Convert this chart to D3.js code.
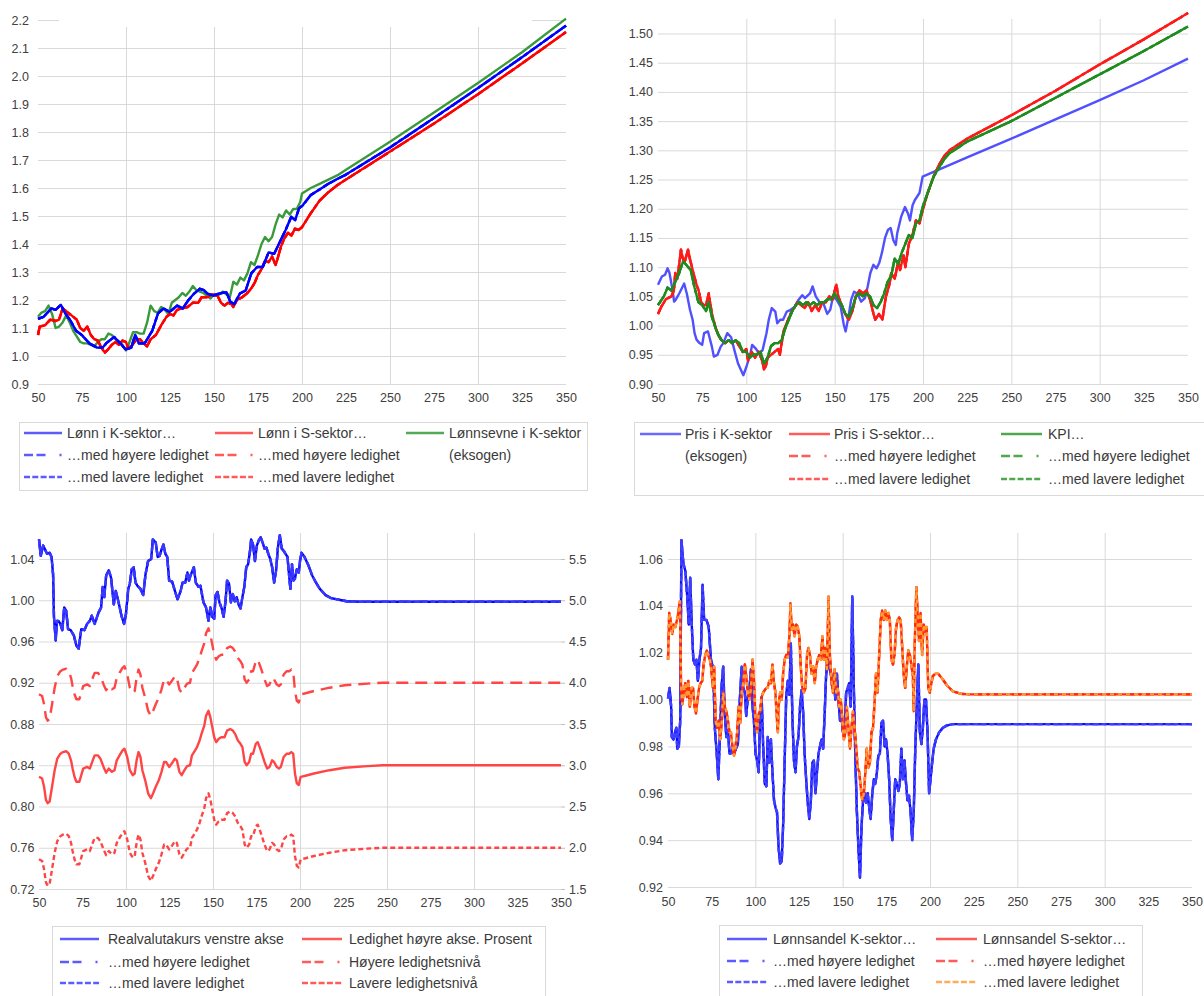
<!DOCTYPE html>
<html><head><meta charset="utf-8">
<script src="https://cdn.jsdelivr.net/npm/d3@7"></script>
<style>body{margin:0;background:#fff}svg{display:block}</style>
</head><body><script>
// ---------- shared axis values ----------
const xTicks = [50,75,100,125,150,175,200,225,250,275,300,325,350];
const xGrid = [100,150,200,250,300];
const yTicksLonn = [0.9,1.0,1.1,1.2,1.3,1.4,1.5,1.6,1.7,1.8,1.9,2.0,2.1,2.2];
const yTicksPris = [0.90,0.95,1.00,1.05,1.10,1.15,1.20,1.25,1.30,1.35,1.40,1.45,1.50];
const yTicksValuta = [0.72,0.76,0.80,0.84,0.88,0.92,0.96,1.00,1.04];
const yTicksLedighet = [1.5,2.0,2.5,3.0,3.5,4.0,4.5,5.0,5.5];
const yTicksAndel = [0.92,0.94,0.96,0.98,1.00,1.02,1.04,1.06];

// ---------- panel 1: wages ----------
const lonnK = [[50,1.133],[53.2,1.14],[57.6,1.17],[60,1.165],[63,1.183],[65.2,1.155],[68.4,1.127],[71.6,1.09],[74.9,1.075],[79.2,1.045],[83.5,1.03],[86.8,1.03],[89,1.047],[93.3,1.068],[96.5,1.047],[99.8,1.023],[103,1.03],[105.2,1.075],[107.4,1.045],[110.6,1.045],[114.9,1.09],[118.2,1.152],[121.4,1.17],[124.7,1.157],[129,1.18],[132.3,1.17],[135.5,1.2],[138.7,1.223],[142,1.24],[144.2,1.235],[146.3,1.223],[149.6,1.216],[152.8,1.223],[157.1,1.228],[159.3,1.193],[161.5,1.186],[164.7,1.223],[168,1.234],[171.2,1.295],[174.5,1.318],[177.7,1.318],[181,1.37],[184.2,1.365],[187.4,1.407],[190.7,1.45],[193.9,1.497],[196.1,1.485],[198.3,1.527],[200.4,1.538],[205,1.575],[210,1.595],[215,1.615],[220,1.632],[225,1.648],[250,1.745],[275,1.85],[300,1.957],[325,2.067],[350,2.18]];
const lonnS = [[50,1.075],[51,1.105],[54,1.11],[57,1.13],[60,1.125],[62,1.13],[64,1.17],[66,1.16],[69,1.145],[72,1.13],[74,1.1],[76,1.09],[78,1.105],[80,1.075],[82,1.06],[84,1.055],[86,1.03],[88,1.012],[90,1.025],[92,1.04],[94,1.05],[96,1.04],[98,1.055],[100,1.05],[101,1.03],[103,1.035],[106,1.06],[108,1.06],[110,1.045],[112,1.035],[114,1.06],[117,1.075],[120,1.11],[123,1.14],[125,1.15],[127,1.145],[129,1.165],[132,1.17],[135,1.175],[138,1.19],[141,1.19],[143,1.21],[146,1.21],[149,1.22],[152,1.215],[154,1.19],[156,1.18],[158,1.19],[160,1.185],[161,1.175],[163,1.2],[166,1.21],[169,1.225],[171,1.24],[173,1.26],[175,1.29],[177,1.31],[179,1.34],[181,1.335],[183,1.355],[185,1.325],[186,1.345],[188,1.39],[190,1.42],[192,1.44],[194,1.43],[196,1.455],[198,1.45],[200,1.46],[205,1.51],[210,1.555],[215,1.585],[220,1.61],[225,1.63],[250,1.73],[275,1.83],[300,1.935],[325,2.045],[350,2.157]];
const lonnsevneK = [[50,1.14],[52,1.155],[54,1.16],[56,1.18],[58,1.15],[60,1.1],[62,1.105],[64,1.12],[66,1.145],[68,1.12],[70,1.09],[72,1.07],[74,1.05],[76,1.045],[78,1.045],[80,1.04],[82,1.035],[84,1.05],[86,1.06],[88,1.06],[90,1.08],[92,1.075],[94,1.06],[96,1.05],[98,1.04],[100,1.02],[102,1.05],[104,1.085],[106,1.085],[108,1.08],[110,1.08],[112,1.12],[114,1.18],[116,1.16],[118,1.155],[120,1.175],[122,1.165],[124,1.15],[126,1.19],[128,1.2],[130,1.21],[132,1.225],[134,1.215],[136,1.23],[138,1.25],[140,1.235],[142,1.23],[144,1.225],[146,1.215],[148,1.205],[150,1.22],[152,1.215],[155,1.23],[157,1.22],[159,1.21],[161,1.265],[163,1.255],[165,1.28],[167,1.27],[169,1.295],[171,1.335],[173,1.325],[175,1.36],[177,1.4],[179,1.425],[181,1.41],[183,1.425],[185,1.47],[187,1.505],[189,1.495],[191,1.52],[193,1.505],[195,1.525],[197,1.525],[199,1.55],[200,1.58],[205,1.6],[210,1.615],[215,1.63],[220,1.645],[225,1.665],[250,1.765],[275,1.87],[300,1.975],[325,2.085],[350,2.205]];

// ---------- panel 2: prices ----------
const prisK = [[50,1.07],[52.2,1.084],[54,1.087],[55.4,1.098],[56.5,1.09],[58.3,1.06],[59.1,1.041],[60,1.044],[62,1.055],[63.5,1.064],[64.8,1.072],[66.3,1.055],[68.1,1.027],[69.6,1.01],[70.7,0.987],[71.8,0.976],[73.5,0.97],[75,0.967],[76.1,0.987],[78.3,0.99],[80.5,0.964],[81.6,0.947],[83.7,0.95],[85.5,0.964],[87,0.97],[89.2,0.987],[91.4,0.98],[93.5,0.955],[95.3,0.935],[98.3,0.915],[100.1,0.93],[102.3,0.952],[103.3,0.967],[105.5,0.96],[107.3,0.952],[109.2,0.958],[111.4,0.987],[112.7,1.01],[114.4,1.03],[116.4,1.024],[117.5,1.004],[119.2,1.01],[120.8,1.01],[122.9,1.024],[125.1,1.027],[127.3,1.032],[129.5,1.044],[131.6,1.052],[133.2,1.047],[136,1.055],[137.5,1.067],[139.3,1.05],[141.4,1.04],[143.6,1.038],[145.8,1.02],[147.5,1.027],[149.1,1.05],[151.2,1.044],[153.4,1.032],[155.2,1.001],[156.2,0.99],[157.8,1.015],[159.3,1.044],[161,1.058],[162.8,1.055],[165,1.041],[167.1,1.047],[168.7,1.067],[170.2,1.09],[171.9,1.104],[173.7,1.098],[175.2,1.107],[176.7,1.124],[178.5,1.15],[180.2,1.164],[181.7,1.167],[183.2,1.146],[184.6,1.138],[185.4,1.158],[187.6,1.186],[189.8,1.203],[191.5,1.192],[192.6,1.18],[194.1,1.206],[195.4,1.215],[198,1.227],[199.8,1.255],[225,1.288],[250,1.32],[275,1.353],[300,1.386],[325,1.42],[350,1.457]];
const prisS = [[50,1.02],[52,1.033],[54.4,1.045],[57.6,1.05],[59,1.06],[59.8,1.09],[61,1.08],[63,1.13],[64,1.115],[65.2,1.11],[67,1.13],[68,1.115],[69.6,1.095],[71.8,1.07],[73,1.06],[74.4,1.04],[76,1.035],[77.2,1.035],[78.7,1.055],[80.5,1.02],[82.7,0.995],[84.8,0.98],[86,0.975],[88,0.97],[90,0.975],[92,0.97],[94,0.975],[96,0.965],[98,0.955],[100,0.96],[101,0.94],[103,0.955],[105,0.945],[107,0.955],[109,0.94],[110,0.925],[111,0.93],[112,0.945],[114,0.95],[116,0.955],[118,0.96],[119,0.95],[121,0.99],[123,1.005],[125,1.02],[127,1.03],[129,1.04],[131,1.035],[133,1.03],[135,1.04],[137,1.025],[139,1.035],[141,1.025],[143,1.04],[145,1.04],[147,1.05],[149,1.045],[150,1.06],[151,1.07],[152,1.05],[154,1.035],[156,1.02],[158,1.01],[160,1.025],[162,1.05],[164,1.06],[166,1.055],[168,1.06],[170,1.045],[172,1.02],[173,1.01],[175,1.02],[177,1.01],[179,1.05],[181,1.07],[182,1.09],[184,1.08],[186,1.11],[187,1.095],[189,1.12],[190,1.1],[192,1.14],[194,1.155],[196,1.18],[198,1.175],[200,1.2],[203,1.23],[206,1.255],[209,1.275],[212,1.29],[215,1.3],[220,1.31],[225,1.32],[250,1.36],[275,1.402],[300,1.447],[325,1.49],[350,1.535]];
const kpi = [[50,1.035],[53.3,1.05],[55.4,1.065],[57.6,1.06],[59.8,1.075],[62,1.09],[64.2,1.11],[65.7,1.105],[68.5,1.095],[70.7,1.065],[72.9,1.04],[75,1.035],[77.2,1.025],[78.7,1.04],[80.5,1.015],[82.7,0.995],[84,0.985],[86,0.975],[88,0.97],[90,0.975],[92,0.97],[94,0.975],[96,0.97],[98,0.955],[100,0.955],[102,0.945],[104,0.95],[106,0.95],[108,0.955],[110,0.935],[112,0.945],[114,0.965],[116,0.97],[118,0.97],[120,0.975],[122,0.995],[124,1.01],[126,1.025],[128,1.035],[130,1.04],[132,1.035],[134,1.04],[136,1.035],[138,1.04],[140,1.035],[142,1.04],[144,1.04],[146,1.045],[148,1.045],[150,1.055],[152,1.045],[154,1.035],[156,1.02],[158,1.015],[160,1.03],[162,1.05],[164,1.055],[166,1.05],[168,1.055],[170,1.05],[172,1.035],[174,1.03],[176,1.04],[178,1.055],[180,1.075],[182,1.085],[184,1.115],[186,1.105],[188,1.125],[190,1.14],[192,1.155],[194,1.15],[196,1.175],[198,1.18],[200,1.205],[203,1.23],[206,1.255],[209,1.27],[212,1.285],[215,1.295],[220,1.305],[225,1.315],[250,1.35],[275,1.39],[300,1.43],[325,1.47],[350,1.512]];

// ---------- panel 3: real exchange rate and unemployment ----------
const realvaluta = [[50,1.059],[51,1.043],[52.4,1.053],[53.3,1.05],[54.6,1.045],[56.1,1.046],[57.2,1.042],[58.1,1.025],[58.6,0.984],[59.6,0.961],[60.3,0.98],[61.2,0.98],[62.3,0.977],[63.4,0.971],[64.5,0.993],[65.6,0.99],[66.7,0.972],[68.2,0.971],[70,0.966],[71.5,0.956],[72.8,0.953],[74.3,0.972],[76.1,0.971],[77.6,0.977],[79.2,0.98],[80.3,0.985],[82,0.977],[84.2,0.988],[85.7,0.993],[86.6,1.013],[87.5,1.003],[88.6,1.024],[90.1,1.029],[91.4,1.022],[93,0.996],[94.1,1.009],[95.6,0.999],[97.4,0.985],[98.9,0.977],[100,0.987],[101.3,1.011],[102.2,1.016],[103.3,1.03],[104.4,1.032],[105.5,1.017],[106.6,1.014],[108.3,1.011],[109.9,1.005],[111.2,1.025],[112.7,1.038],[114.5,1.04],[115.4,1.059],[117.1,1.056],[118.2,1.042],[119.3,1.043],[120.4,1.049],[121.5,1.054],[122.6,1.045],[123.7,1.042],[124.8,1.019],[126.5,1.018],[128.1,1.009],[129.6,1.001],[131.4,1.009],[132.5,1.017],[134,1.017],[135.3,1.027],[136.2,1.019],[137.3,1.025],[139,1.032],[140.1,1.017],[141.7,1.013],[142.8,1.014],[144.5,0.998],[146,0.993],[147.4,0.98],[148.5,0.993],[149.6,0.984],[150.7,0.982],[151.5,1.005],[152.6,1.008],[153.7,0.998],[155,0.992],[156.1,0.984],[157.2,0.999],[158.1,1.019],[159.2,1.016],[160.3,0.998],[161.4,1.006],[162.5,0.999],[163.6,1.003],[164.7,0.996],[165.8,0.992],[166.9,1.003],[168,1.013],[169.1,1.032],[170.2,1.035],[171.3,1.048],[171.9,1.059],[173,1.054],[174.1,1.038],[175.2,1.053],[176.3,1.058],[177.4,1.061],[178.5,1.056],[179.6,1.05],[180.7,1.051],[181.8,1.045],[182.9,1.04],[184,1.032],[185.1,1.017],[186.2,1.028],[187.3,1.051],[188.4,1.063],[189.5,1.05],[190.6,1.048],[191.7,1.045],[192.8,1.042],[193.9,1.021],[194.5,1.011],[195.4,1.035],[196.3,1.019],[197.1,1.021],[198.2,1.03],[199.3,1.027],[200,1.038],[200.9,1.046],[202.6,1.042],[204.8,1.034],[207,1.024],[209.2,1.017],[211.4,1.011],[214.7,1.005],[218,1.002],[222.4,1.0005],[226.8,0.999],[235,0.9985],[350,0.9985]];
const ledighetX = [50,51.8,52.9,54,55,56.1,57.5,59,60.5,62.3,63.8,65.6,67.1,68.4,69.3,70.4,71.5,73.2,74.3,75.4,77.6,79.2,80.9,82,83.8,85.3,87.1,88.6,90.1,91.9,93.4,94.7,96.3,98,99.1,100.7,102.2,103.9,105,106.1,107.2,108.3,109.4,111,112.7,114.3,115.6,117.1,118.9,120.4,121.9,123,124.8,126.3,128.1,129.2,130.7,132,133.6,135.1,136.8,137.9,139.7,140.8,142.3,143.4,145,146,147.4,148.5,149.6,150.7,151.8,153.3,154.8,156.6,158.1,159.9,161.4,162.7,164.3,165.8,166.9,168.2,169.3,170.8,171.9,173,174.6,175.7,176.8,178.1,179.6,181.1,182.5,184,185.1,186.6,187.9,189,190.6,192.3,193.9,195,196.1,197.1,198.2,199.3,200.4,202.6,208,217,225.7,238.8,247.6,350];
const ledighet = [2.86,2.84,2.74,2.58,2.54,2.56,2.74,2.94,3.08,3.14,3.16,3.17,3.14,3.06,2.96,2.86,2.8,2.8,2.88,2.96,2.98,2.96,3.06,3.12,3.12,3.08,2.98,2.91,2.96,2.92,2.94,3.06,3.12,3.18,3.2,3.1,2.94,2.88,2.9,3.06,3.16,3.1,2.94,2.82,2.66,2.6,2.66,2.74,2.82,2.92,3.04,3.04,2.98,3.02,3.08,3.06,2.92,2.88,2.94,2.99,3.0,3.12,3.18,3.22,3.3,3.38,3.48,3.6,3.66,3.58,3.46,3.34,3.28,3.32,3.34,3.34,3.42,3.44,3.42,3.38,3.3,3.26,3.22,3.04,3.0,3.04,3.14,3.14,3.26,3.28,3.22,3.14,3.04,2.96,2.98,3.06,3.04,2.98,2.96,2.98,3.1,3.14,3.14,3.16,3.14,2.9,2.78,2.76,2.86,2.87,2.9,2.94,2.97,2.99,3.0,3.0];
const ledighetHoy = [3.86,3.84,3.74,3.58,3.54,3.56,3.74,3.94,4.08,4.14,4.16,4.17,4.14,4.06,3.96,3.86,3.8,3.8,3.88,3.96,3.98,3.96,4.06,4.12,4.12,4.08,3.98,3.91,3.96,3.92,3.94,4.06,4.12,4.18,4.2,4.1,3.94,3.88,3.9,4.06,4.16,4.1,3.94,3.82,3.66,3.6,3.66,3.74,3.82,3.92,4.04,4.04,3.98,4.02,4.08,4.06,3.92,3.88,3.94,3.99,4.0,4.12,4.18,4.22,4.3,4.38,4.48,4.6,4.66,4.58,4.46,4.34,4.28,4.32,4.34,4.34,4.42,4.44,4.42,4.38,4.3,4.26,4.22,4.04,4.0,4.04,4.14,4.14,4.26,4.28,4.22,4.14,4.04,3.96,3.98,4.06,4.04,3.98,3.96,3.98,4.1,4.14,4.14,4.16,4.14,3.9,3.78,3.76,3.86,3.87,3.9,3.94,3.97,3.99,4.0,4.0];
const ledighetLav = [1.86,1.84,1.74,1.58,1.54,1.56,1.74,1.94,2.08,2.14,2.16,2.17,2.14,2.06,1.96,1.86,1.8,1.8,1.88,1.96,1.98,1.96,2.06,2.12,2.12,2.08,1.98,1.91,1.96,1.92,1.94,2.06,2.12,2.18,2.2,2.1,1.94,1.88,1.9,2.06,2.16,2.1,1.94,1.82,1.66,1.6,1.66,1.74,1.82,1.92,2.04,2.04,1.98,2.02,2.08,2.06,1.92,1.88,1.94,1.99,2.0,2.12,2.18,2.22,2.3,2.38,2.48,2.6,2.66,2.58,2.46,2.34,2.28,2.32,2.34,2.34,2.42,2.44,2.42,2.38,2.3,2.26,2.22,2.04,2.0,2.04,2.14,2.14,2.26,2.28,2.22,2.14,2.04,1.96,1.98,2.06,2.04,1.98,1.96,1.98,2.1,2.14,2.14,2.16,2.14,1.9,1.78,1.76,1.86,1.87,1.9,1.94,1.97,1.99,2.0,2.0];

// ---------- panel 4: wage shares ----------
const andelK = [[50,1.0005],[50.9,1.005],[51.8,0.997],[52.2,0.984],[53.1,0.983],[54,0.986],[54.8,0.988],[55.3,0.979],[56.2,0.98],[57,0.991],[57.7,1.068],[58.8,1.058],[59.9,1.055],[61,1.044],[61.9,1.032],[62.7,1.052],[63.6,1.032],[64.5,1.017],[65.4,1.015],[66.3,1.017],[67.1,1.008],[68,1.017],[68.9,1.022],[69.8,1.049],[70.7,1.034],[72,1.034],[73.3,1.031],[74.6,1.017],[75.9,1.013],[76.8,0.988],[77.9,0.977],[78.8,0.966],[79.7,0.984],[80.8,1.007],[81.6,1.014],[82.5,0.994],[83.4,0.984],[84.3,0.987],[85.2,0.977],[86,0.977],[86.9,0.979],[87.8,0.977],[88.9,0.979],[90,0.981],[90.9,0.997],[92.2,1.014],[93.1,1.005],[94,1.003],[94.8,0.993],[95.7,1.001],[96.6,1.004],[97.5,1.013],[98.4,0.997],[99.2,0.991],[100.1,0.977],[101,0.974],[101.9,0.969],[102.7,0.991],[103.6,1.001],[104.5,0.98],[105.4,0.964],[106.3,0.963],[107.1,0.984],[108,0.973],[108.9,0.983],[109.8,0.969],[110.7,0.957],[111.5,0.954],[112.4,0.952],[113.3,0.937],[114.2,0.93],[115.1,0.931],[115.9,0.946],[116.8,0.974],[117.7,1.002],[118.6,1.008],[119.5,1.002],[120.3,1.024],[121.2,0.993],[122.1,0.974],[123,0.969],[123.8,0.98],[124.7,0.984],[125.6,0.997],[126.5,1.004],[127.4,0.994],[128.2,0.977],[129.1,0.966],[130,0.956],[130.9,0.949],[131.8,0.957],[132.6,0.973],[133.5,0.974],[134.4,0.96],[135.3,0.969],[136.2,0.977],[137,0.98],[137.9,0.983],[138.8,0.979],[139.7,0.994],[140.5,1.01],[141.4,1.017],[142.3,1.014],[143.2,1.011],[144.1,1.005],[144.9,1.011],[145.8,1.0],[146.7,1.011],[147.6,1.0],[148.5,0.991],[149.3,0.993],[150.2,0.986],[151.1,0.988],[152,1.003],[152.9,1.005],[153.7,1.007],[154.6,0.997],[155.5,1.044],[156.4,1.005],[157.3,0.974],[158.1,0.953],[159,0.937],[159.9,0.924],[160.8,0.946],[161.6,0.956],[162.5,0.96],[163.4,0.956],[164.3,0.96],[165.2,0.954],[166,0.949],[166.9,0.959],[167.8,0.966],[168.7,0.964],[169.6,0.969],[170.4,0.976],[171.3,0.977],[172.2,0.99],[173.1,0.991],[174,0.98],[174.8,0.983],[175.7,0.977],[176.6,0.966],[177.5,0.949],[178.4,0.94],[179.2,0.952],[180.1,0.966],[181,0.964],[181.9,0.961],[182.7,0.964],[183.6,0.979],[184.5,0.966],[185.4,0.974],[186.3,0.964],[187.1,0.957],[188,0.959],[188.9,0.952],[189.8,0.94],[190.7,0.952],[191.5,0.977],[192.4,0.997],[193.3,1.015],[194.2,0.986],[195.1,0.981],[195.9,0.988],[196.8,1.0],[197.7,1.0],[198.6,0.986],[199.5,0.96],[200.3,0.966],[201.2,0.973],[202.1,0.979],[203.4,0.983],[205.2,0.986],[207.4,0.988],[209.8,0.989],[213.1,0.9895],[350,0.9895]];
const andelS = [[50,1.017],[50.7,1.037],[51.5,1.034],[52.4,1.028],[53.3,1.032],[54.2,1.031],[55.1,1.034],[55.9,1.037],[56.8,1.042],[57.5,1.005],[58.1,0.998],[59,1.003],[59.9,1.007],[60.8,1.001],[61.6,1.008],[62.5,0.997],[63.4,1.005],[64.3,1.005],[65.2,0.997],[66,0.994],[66.9,1.0],[67.8,1.005],[68.7,1.007],[69.6,1.008],[70.4,1.015],[71.3,1.019],[72.2,1.021],[73.1,1.019],[74,1.017],[74.8,1.013],[75.7,1.005],[76.4,1.014],[77.3,0.991],[78.1,0.988],[79,0.991],[79.9,0.983],[80.8,0.991],[81.6,1.003],[82.5,0.997],[83.4,0.995],[84.3,0.991],[85.2,0.986],[86,0.986],[86.9,0.98],[87.8,0.976],[88.7,0.98],[89.6,0.986],[90.4,0.997],[91.3,0.99],[92.2,1.003],[93.1,1.007],[94,1.015],[94.8,1.01],[95.7,1.003],[96.6,1.0],[97.5,1.005],[98.4,1.017],[99.2,1.008],[100.1,0.991],[101,0.986],[101.9,0.994],[102.7,0.995],[103.6,1.001],[104.5,1.003],[105.4,1.004],[106.3,1.005],[107.1,1.005],[108,1.008],[108.9,1.007],[109.8,1.015],[110.7,1.007],[111.5,1.003],[112.4,0.991],[112.9,0.986],[113.3,0.997],[114.2,1.003],[115.1,1.0],[115.9,1.011],[116.8,1.017],[117.7,1.019],[118.6,1.018],[119.5,1.027],[120.1,1.041],[120.8,1.03],[121.6,1.032],[122.5,1.027],[123.4,1.032],[124.3,1.031],[125.2,1.027],[126,1.014],[126.9,1.005],[127.8,1.003],[128.7,1.005],[129.6,1.019],[130.4,1.022],[131.3,1.019],[132.2,1.011],[133.1,1.014],[134,1.007],[134.8,1.014],[135.7,1.017],[136.6,1.019],[137.5,1.017],[138.4,1.027],[139.2,1.017],[140.1,1.022],[141,1.013],[141.9,1.044],[142.7,1.019],[143.6,1.008],[144.5,1.003],[145.4,1.013],[146.3,1.003],[147.1,1.005],[148,0.997],[148.9,1.0],[149.8,0.991],[150.7,0.983],[151.5,0.986],[152.4,0.997],[153.3,0.988],[154.2,0.979],[155.1,0.988],[155.9,0.995],[156.8,0.988],[157.7,0.98],[158.6,0.971],[159.5,0.969],[160.3,0.963],[161.2,0.957],[162.1,0.96],[163,0.969],[163.8,0.979],[164.7,0.971],[165.6,0.973],[166.5,0.986],[167.4,0.988],[168.2,0.998],[169.1,1.011],[170,1.003],[170.9,1.019],[171.8,1.034],[172.6,1.038],[173.5,1.034],[174.4,1.038],[175.3,1.034],[176.2,1.037],[177,1.034],[177.9,1.017],[178.8,1.015],[179.7,1.019],[180.5,1.03],[181.4,1.034],[182.3,1.035],[183.2,1.034],[184.1,1.022],[184.9,1.011],[185.8,1.005],[186.7,1.014],[187.6,1.021],[188.5,1.019],[189.3,1.015],[190.2,1.01],[190.7,0.995],[191.1,1.019],[191.5,1.03],[192.2,1.048],[192.9,1.037],[193.7,1.025],[194.6,1.037],[195.5,1.019],[196.4,1.032],[197.3,1.029],[198.1,1.031],[199,1.005],[199.9,1.003],[200.8,1.007],[201.6,1.01],[203,1.011],[204.7,1.011],[206.9,1.009],[209.8,1.006],[213.1,1.0035],[217.5,1.0025],[221.9,1.0022],[350,1.0022]];

// ---------- drawing ----------
const W = 1204, H = 996;
const FONT = "'Liberation Sans', Arial, sans-serif";
const GRID = "#d9d9d9", TXT = "#404040";
const svg = d3.select("body").append("svg").attr("width", W).attr("height", H)
  .style("font-family", FONT);

function makePanel(o) {
  const g = svg.append("g");
  const x = d3.scaleLinear().domain([50, 350]).range([o.x0, o.x1]);
  const y = d3.scaleLinear().domain(o.yDom).range(o.yRange);
  const yBottom = y(o.yDom[0]);

  // horizontal gridlines
  g.append("g").attr("transform", `translate(${o.x0},0)`)
    .call(d3.axisLeft(y).tickValues(o.yTicks).tickSize(-(o.x1 - o.x0)).tickFormat(""))
    .call(a => a.select(".domain").remove())
    .call(a => a.selectAll("line").attr("stroke", GRID));
  // vertical gridlines every 50
  g.append("g").attr("transform", `translate(0,${yBottom})`)
    .call(d3.axisBottom(x).tickValues(xGrid).tickSize(-(yBottom - o.gridTop)).tickFormat(""))
    .call(a => a.select(".domain").remove())
    .call(a => a.selectAll("line").attr("stroke", GRID));

  // y tick labels
  g.append("g").attr("transform", `translate(${o.x0},0)`)
    .call(d3.axisLeft(y).tickValues(o.yTicks).tickSize(0).tickPadding(o.yPad).tickFormat(d3.format(o.yFmt)))
    .call(a => a.select(".domain").remove())
    .attr("font-family", FONT).attr("font-size", 12.5).attr("color", TXT);
  // x tick labels
  g.append("g").attr("transform", `translate(0,${yBottom})`)
    .call(d3.axisBottom(x).tickValues(xTicks).tickSize(0).tickPadding(o.xPad).tickFormat(d3.format("d")))
    .call(a => a.select(".domain").remove())
    .attr("font-family", FONT).attr("font-size", 12.5).attr("color", TXT);
  return { g, x, y };
}

function drawLine(p, data, color, opts = {}) {
  const yS = opts.y || p.y;
  const line = d3.line().x(d => p.x(d[0])).y(d => yS(d[1]));
  p.g.append("path").datum(data).attr("d", line)
    .attr("fill", "none").attr("stroke", color)
    .attr("stroke-width", opts.w || 2.4)
    .attr("stroke-linejoin", "round")
    .attr("stroke-dasharray", opts.dash || null);
}

const DASHDOT_L = "9,3.5,9,14,2,40";
const SHORT_L = "6,2.3";

function legend(box, items) {
  const g = svg.append("g");
  g.append("rect").attr("x", box[0] + 0.5).attr("y", box[1] + 0.5)
    .attr("width", box[2] - box[0]).attr("height", box[3] - box[1])
    .attr("fill", "#fff").attr("stroke", GRID);
  items.forEach(it => {
    if (it.color) {
      g.append("line").attr("x1", it.lx).attr("x2", it.lx + it.len).attr("y1", it.y).attr("y2", it.y)
        .attr("stroke", it.color).attr("stroke-width", 2.6)
        .attr("stroke-dasharray", it.dash || null);
    }
    g.append("text").attr("x", it.tx).attr("y", it.y).attr("dy", "0.35em")
      .attr("font-size", 14).attr("fill", "#3a3a3a").text(it.text);
  });
}

// ===== Panel 1 =====
{
  const p = makePanel({ x0: 38, x1: 566, yDom: [0.9, 2.2], yRange: [384, 20], gridTop: 27,
    yTicks: yTicksLonn, yFmt: ".1f", yPad: 9, xPad: 9 });
  // blank strip above the plot area
  p.g.append("rect").attr("x", 59).attr("y", 0).attr("width", 473).attr("height", 26.5).attr("fill", "#fff");
  const blue = "#0000ff", red = "#ff0000", green = "#3a9a3a";
  drawLine(p, lonnsevneK, green);
  drawLine(p, lonnS, red);
  drawLine(p, lonnS, red, { dash: "9,4,2,4" });
  drawLine(p, lonnS, red, { dash: "5,3" });
  drawLine(p, lonnK, blue);
  drawLine(p, lonnK, blue, { dash: "9,4,2,4" });
  drawLine(p, lonnK, blue, { dash: "5,3" });

  const lb = "#5b5bff", lr = "#ff5b5b", lg = "#55a855";
  legend([19, 422, 587, 490], [
    { lx: 24, len: 38, tx: 67, y: 433, color: lb, text: "Lønn i K-sektor…" },
    { lx: 24, len: 38, tx: 67, y: 455, color: lb, dash: DASHDOT_L, text: "…med høyere ledighet" },
    { lx: 24, len: 38, tx: 67, y: 477, color: lb, dash: SHORT_L, text: "…med lavere ledighet" },
    { lx: 215, len: 38, tx: 258, y: 433, color: lr, text: "Lønn i S-sektor…" },
    { lx: 215, len: 38, tx: 258, y: 455, color: lr, dash: DASHDOT_L, text: "…med høyere ledighet" },
    { lx: 215, len: 38, tx: 258, y: 477, color: lr, dash: SHORT_L, text: "…med lavere ledighet" },
    { lx: 406, len: 38, tx: 449, y: 433, color: lg, text: "Lønnsevne i K-sektor" },
    { tx: 449, y: 455, text: "(eksogen)" }
  ]);
}

// ===== Panel 2 =====
{
  const p = makePanel({ x0: 658, x1: 1188, yDom: [0.9, 1.5], yRange: [384, 33.5], gridTop: 19,
    yTicks: yTicksPris, yFmt: ".2f", yPad: 5, xPad: 9 });
  const blue = "#5050ff", red = "#ff1a1a", green = "#1e8c1e";
  drawLine(p, prisK, blue);
  drawLine(p, prisS, red);
  drawLine(p, prisS, red, { dash: "9,4,2,4" });
  drawLine(p, prisS, red, { dash: "5,3" });
  drawLine(p, kpi, green);
  drawLine(p, kpi, green, { dash: "9,4,2,4" });
  drawLine(p, kpi, green, { dash: "5,3" });

  const lb = "#6a6aff", lr = "#ff5b5b", lg = "#4fa84f";
  legend([634, 422, 1215, 495], [
    { lx: 640, len: 41, tx: 685, y: 434, color: lb, text: "Pris i K-sektor" },
    { tx: 685, y: 456, text: "(eksogen)" },
    { lx: 789, len: 41, tx: 834, y: 434, color: lr, text: "Pris i S-sektor…" },
    { lx: 789, len: 41, tx: 834, y: 456, color: lr, dash: DASHDOT_L, text: "…med høyere ledighet" },
    { lx: 789, len: 41, tx: 834, y: 479, color: lr, dash: SHORT_L, text: "…med lavere ledighet" },
    { lx: 1001, len: 41, tx: 1048, y: 434, color: lg, text: "KPI…" },
    { lx: 1001, len: 41, tx: 1048, y: 456, color: lg, dash: DASHDOT_L, text: "…med høyere ledighet" },
    { lx: 1001, len: 41, tx: 1048, y: 479, color: lg, dash: SHORT_L, text: "…med lavere ledighet" }
  ]);
}

// ===== Panel 3 =====
{
  const p = makePanel({ x0: 39, x1: 561, yDom: [0.72, 1.04], yRange: [889, 559], gridTop: 533,
    yTicks: yTicksValuta, yFmt: ".2f", yPad: 4.5, xPad: 9 });
  const yR = d3.scaleLinear().domain([1.5, 5.5]).range([889, 559]);
  p.g.append("g").attr("transform", `translate(561,0)`)
    .call(d3.axisRight(yR).tickValues(yTicksLedighet).tickSize(4).tickPadding(4).tickFormat(d3.format(".1f")))
    .call(a => a.select(".domain").remove())
    .call(a => a.selectAll("line").attr("stroke", "#bfbfbf"))
    .attr("font-family", FONT).attr("font-size", 12.5).attr("color", TXT);

  const blue = "#0000ff", red = "#ff4545";
  const led = ledighetX.map((v, i) => [v, ledighet[i]]);
  const ledH = ledighetX.map((v, i) => [v, ledighetHoy[i]]);
  const ledL = ledighetX.map((v, i) => [v, ledighetLav[i]]);
  drawLine(p, ledH, red, { y: yR, dash: "12,7" });
  drawLine(p, led, red, { y: yR });
  drawLine(p, ledL, red, { y: yR, dash: "5,3" });
  drawLine(p, realvaluta, blue);
  drawLine(p, realvaluta, "#2a2aff", { dash: "9,4,2,4" });
  drawLine(p, realvaluta, "#3a3aff", { dash: "5,3" });

  const lb = "#5b5bff", lr = "#ff5b5b";
  legend([52, 926, 545, 1010], [
    { lx: 60, len: 39, tx: 108, y: 939, color: lb, text: "Realvalutakurs venstre akse" },
    { lx: 60, len: 39, tx: 108, y: 962, color: lb, dash: DASHDOT_L, text: "…med høyere ledighet" },
    { lx: 60, len: 39, tx: 108, y: 983, color: lb, dash: SHORT_L, text: "…med lavere ledighet" },
    { lx: 302, len: 40, tx: 349, y: 939, color: lr, text: "Ledighet høyre akse. Prosent" },
    { lx: 302, len: 40, tx: 349, y: 962, color: lr, dash: DASHDOT_L, text: "Høyere ledighetsnivå" },
    { lx: 302, len: 40, tx: 349, y: 983, color: lr, dash: SHORT_L, text: "Lavere ledighetsnivå" }
  ]);
}

// ===== Panel 4 =====
{
  const p = makePanel({ x0: 668, x1: 1192, yDom: [0.92, 1.06], yRange: [887, 559], gridTop: 533,
    yTicks: yTicksAndel, yFmt: ".2f", yPad: 5, xPad: 10 });
  const blue = "#0a0aff", red = "#ff2a10", orange = "#ff9a30";
  drawLine(p, andelK, blue);
  drawLine(p, andelK, "#2a2aff", { dash: "9,4,2,4" });
  drawLine(p, andelK, "#4040ff", { dash: "5,3" });
  drawLine(p, andelS, red);
  drawLine(p, andelS, red, { dash: "9,4,2,4" });
  drawLine(p, andelS, orange, { dash: "4,4" });

  const lb = "#5b5bff", lr = "#ff5b5b", lo = "#ffab5b";
  legend([719, 925, 1142, 1010], [
    { lx: 727, len: 40, tx: 773, y: 939, color: lb, text: "Lønnsandel K-sektor…" },
    { lx: 727, len: 40, tx: 773, y: 961, color: lb, dash: DASHDOT_L, text: "…med høyere ledighet" },
    { lx: 727, len: 40, tx: 773, y: 982, color: lb, dash: SHORT_L, text: "…med lavere ledighet" },
    { lx: 936, len: 41, tx: 983, y: 939, color: lr, text: "Lønnsandel S-sektor…" },
    { lx: 936, len: 41, tx: 983, y: 961, color: lr, dash: DASHDOT_L, text: "…med høyere ledighet" },
    { lx: 936, len: 41, tx: 983, y: 982, color: lo, dash: SHORT_L, text: "…med lavere ledighet" }
  ]);
}
</script></body></html>
